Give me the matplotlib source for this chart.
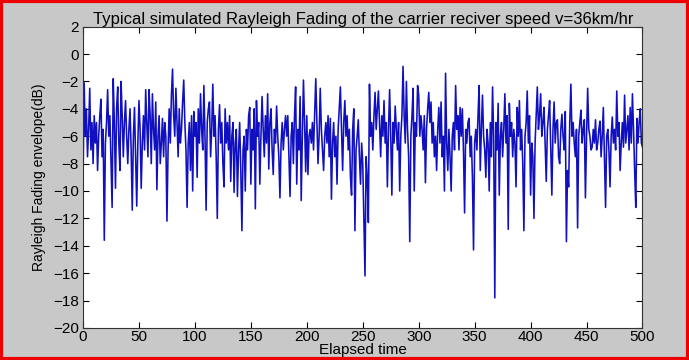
import numpy as np
import matplotlib
matplotlib.use("Agg")
import matplotlib.pyplot as plt
from matplotlib.patches import Rectangle

plt.rcParams['font.family'] = ['Liberation Sans', 'DejaVu Sans']

title = "Typical simulated Rayleigh Fading of the carrier reciver speed v=36km/hr"
xlabel = "Elapsed time"
ylabel = "Rayleigh Fading envelope(dB)"

env_0_99 = [
    -9.5, -2.1, -6.0, -4.0, -7.5, -5.5, -2.5, -7.0, -5.0, -8.0,
    -4.5, -6.5, -5.0, -8.5, -6.0, -4.5, -3.3, -7.5, -5.5, -13.6,
    -6.5, -5.0, -2.6, -6.0, -4.5, -8.0, -11.2, -1.8, -5.0, -9.8,
    -4.0, -2.4, -6.5, -8.5, -2.0, -4.5, -7.5, -5.0, -3.4, -6.0,
    -8.0, -5.5, -4.0, -7.0, -11.4, -6.0, -3.9, -7.5, -11.1, -6.5,
    -3.4, -5.5, -9.8, -6.5, -4.5, -7.0, -2.6, -5.0, -7.5, -2.6,
    -4.5, -8.0, -2.9, -5.5, -7.0, -3.5, -9.9, -6.0, -4.5, -8.0,
    -6.5, -4.7, -7.5, -5.0, -6.0, -12.2, -7.0, -4.0, -6.5, -3.0,
    -1.1, -4.5, -6.0, -2.5, -5.0, -7.5, -4.0, -6.5, -5.5, -3.5,
    -1.9, -5.0, -7.0, -11.2, -6.5, -5.0, -8.5, -4.5, -10.0, -4.2,
]
env_100_199 = [
    -6.0, -5.0, -9.0, -4.0, -6.5, -2.9, -5.5, -7.0, -2.3, -6.0,
    -11.4, -5.0, -4.0, -3.5, -7.5, -5.5, -2.2, -6.0, -4.5, -7.5,
    -12.0, -5.5, -3.7, -6.5, -5.0, -8.0, -9.7, -4.0, -6.5, -5.0,
    -7.0, -4.5, -9.3, -6.0, -5.0, -10.1, -6.5, -5.5, -10.4, -7.0,
    -5.0, -8.5, -12.9, -7.0, -6.0, -10.0, -5.5, -7.0, -4.5, -3.9,
    -9.5, -5.5, -7.0, -4.0, -11.3, -3.4, -6.0, -5.0, -9.5, -6.0,
    -3.1, -5.5, -7.5, -4.5, -6.5, -2.9, -8.4, -5.0, -4.0, -7.0,
    -8.8, -5.5, -6.5, -3.8, -6.0, -7.5, -10.5, -6.5, -5.0, -7.0,
    -5.5, -4.5, -6.0, -4.5, -7.5, -10.4, -6.0, -5.0, -8.0, -4.5,
    -2.4, -9.5, -5.5, -7.0, -3.1, -10.7, -6.0, -1.9, -5.0, -8.6,
]
env_200_299 = [
    -4.5, -8.8, -6.0, -5.5, -6.5, -5.0, -7.0, -4.5, -1.8, -5.0,
    -8.0, -6.0, -2.5, -5.5, -7.0, -8.5, -6.0, -5.0, -6.5, -4.5,
    -7.5, -4.7, -10.6, -6.5, -5.0, -7.5, -6.0, -9.5, -5.5, -4.0,
    -2.4, -5.5, -8.5, -5.0, -3.4, -6.0, -4.5, -7.0, -5.5, -9.0,
    -10.3, -5.5, -4.0, -12.9, -7.0, -6.0, -4.8, -7.5, -9.5, -6.5,
    -8.0, -12.2, -16.2, -7.5, -9.0, -12.3, -2.2, -6.0, -5.0, -7.0,
    -4.5, -2.8, -5.5, -4.0, -2.7, -5.0, -7.5, -4.5, -6.0, -3.4,
    -6.5, -5.0, -9.7, -5.5, -2.6, -6.0, -10.3, -5.0, -6.5, -3.8,
    -5.5, -7.0, -5.0, -10.0, -6.0, -4.5, -0.9, -4.5, -6.5, -2.0,
    -5.5, -7.5, -13.7, -6.0, -4.5, -2.5, -10.0, -5.0, -6.0, -2.3,
]
env_300_399 = [
    -3.0, -6.0, -4.5, -5.5, -7.0, -4.5, -9.4, -5.5, -4.0, -2.8,
    -5.0, -3.5, -6.5, -5.0, -7.5, -6.0, -8.5, -5.5, -3.9, -6.5,
    -3.5, -7.5, -6.0, -10.0, -1.4, -6.5, -8.5, -5.5, -7.5, -10.0,
    -6.0, -5.0, -7.0, -2.3, -5.5, -4.5, -7.0, -3.9, -6.0, -4.0,
    -7.0, -11.6, -5.5, -6.5, -5.0, -4.7, -7.5, -6.0, -9.0, -14.3,
    -6.5, -5.5, -7.0, -4.5, -2.3, -8.5, -5.5, -3.0, -6.0, -7.0,
    -9.0, -5.5, -6.5, -10.0, -5.0, -7.5, -2.4, -6.0, -17.8, -5.0,
    -7.0, -3.6, -10.3, -6.0, -5.0, -7.5, -5.5, -2.9, -6.5, -4.5,
    -12.8, -3.6, -6.0, -5.0, -7.5, -5.5, -6.5, -9.7, -3.9, -6.0,
    -3.4, -7.0, -5.5, -8.0, -12.9, -6.0, -5.0, -2.7, -6.5, -4.5,
]
env_400_500 = [
    -10.3, -6.5, -7.5, -12.0, -6.5, -4.5, -2.4, -5.5, -4.5, -2.9,
    -6.0, -5.0, -3.9, -6.5, -9.3, -5.5, -4.5, -3.4, -7.0, -10.3,
    -5.5, -3.5, -6.5, -5.0, -4.8, -7.5, -8.0, -5.5, -4.4, -6.0,
    -7.0, -4.2, -13.7, -8.5, -9.7, -5.0, -2.2, -6.0, -5.0, -6.5,
    -7.5, -5.5, -12.7, -6.0, -5.0, -4.1, -6.5, -5.5, -4.8, -10.5,
    -6.0, -2.5, -5.5, -6.0, -7.0, -6.8, -5.5, -6.5, -4.8, -7.0,
    -6.5, -5.5, -4.9, -7.5, -6.0, -3.9, -7.5, -11.2, -6.0, -5.5,
    -7.0, -9.7, -6.0, -4.6, -6.5, -5.5, -7.0, -2.7, -6.0, -5.0,
    -8.5, -6.5, -5.0, -6.8, -3.0, -6.5, -5.5, -4.5, -7.0, -3.9,
    -6.5, -2.9, -5.5, -8.6, -11.2, -4.7, -6.5, -5.0, -4.0, -6.5,
    -6.8,
]

envelope = env_0_99 + env_100_199 + env_200_299 + env_300_399 + env_400_500
elapsed = np.arange(len(envelope))

xticks = [0, 50, 100, 150, 200, 250, 300, 350, 400, 450, 500]
yticks = [2, 0, -2, -4, -6, -8, -10, -12, -14, -16, -18, -20]

fig = plt.figure(figsize=(6.89, 3.60), dpi=100, facecolor='#c8c8c8')
ax = fig.add_axes([0.1205, 0.089, 0.812, 0.837])
ax.set_facecolor('white')
ax.plot(elapsed, envelope, color='#1010c0', linewidth=1.15)

ax.set_xlim(0, 500)
ax.set_ylim(-20, 2)
ax.set_xticks(xticks)
ax.set_yticks(yticks)
ax.tick_params(direction='in', top=True, right=True, length=4, width=0.8,
               labelsize=11, colors='black')
ax.tick_params(axis='x', pad=1.5)
ax.tick_params(axis='y', pad=3)
for s in ax.spines.values():
    s.set_linewidth(0.8)
    s.set_color('#333333')

ax.set_title(title, fontsize=12, pad=2)
ax.set_xlabel(xlabel, fontsize=11, labelpad=-1)
ax.set_ylabel(ylabel, fontsize=10, labelpad=5)

fig.patches.append(Rectangle((0.002, 0.004), 0.996, 0.992, transform=fig.transFigure,
                             fill=False, edgecolor='#ee0000', linewidth=3, zorder=10))

fig.savefig('out.png', dpi=100, facecolor=fig.get_facecolor())
